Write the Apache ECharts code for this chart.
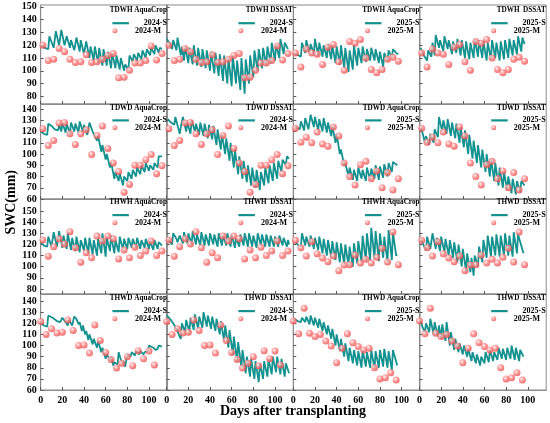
<!DOCTYPE html>
<html><head><meta charset="utf-8">
<script src="https://cdn.jsdelivr.net/npm/echarts@6/dist/echarts.min.js"></script>
<style>html,body{margin:0;padding:0;background:#fff}#c{width:550px;height:423px}</style>
</head><body><div id="c"></div>
<script>
// ---------- DATA ----------
const panelTitles = [
  ['TDWH AquaCrop','TDWH DSSAT','TDWH AquaCrop','TDWH  DSSAT'],
  ['TDWD AquaCrop','TDWD DSSAT','TDWD AquaCrop','TDWD  DSSAT'],
  ['THWH AquaCrop','THWH  DSSAT','THWH AquaCrop','THWD  DSSAT'],
  ['THWD AquaCrop','THWD  DSSAT','THWD AquaCrop','THWD  DSSAT']
];
const yearOfCol = ['2024','2024','2025','2025'];
const xTicks = [0,20,40,60,80,100];
const yTicksA = [80,90,100,110,120,130,140,150];
const yTicksB = [60,70,80,90,100,110,120,130,140];

// measurement days
const mDays24 = [2,7,12,17,22,27,32,37,42,47,52,57,62,67,72,77,82,87,92,97,102,107,112];
const mDays25 = [2,7,12,17,22,27,32,37,42,47,52,57,62,67,72,77,82,87,92,97];
const mDays24b = [0,5,10,15,20,25,30,35,40,45,50,55,60,65,70,75,80,85,90,95,100,105];
const mDays25b = [0,5,10,15,20,25,30,35,40,45,50,55,60,65,70,75,80,85,90,95];

// measured SWC (mm)
const mTDWH24 = [120,108,109,117.5,115,109,106.5,107,112.5,106.5,107,109,112,113.5,94.5,95,100.5,106,106,108,119.5,108.5,113.5];
const mTDWH25 = [114,103,117,114,113,105,118.5,120.5,107,100.5,123,121.5,124.5,110,101,98.5,101,109,110.5,107.5];
const mTDWD24 = [122.5,107.5,112,127.5,128,118,108.5,118,121.5,99.5,116.5,125,105,92,84.5,66,73,90,90,95,99.5,82.5,89.5];
const mTDWD25 = [123,110.5,115,110,119.5,109,107,124,116,92,80,72.5,90.5,93.5,78,85,70,83.5,68,78];
const mTHWH24 = [124,109.5,118,125,120.5,131.5,117,104,112.5,108,127.5,123,127.5,125,107,115,108,117.5,110,114,123,110,114];
const mTHWH25 = [123.7,117.1,109.6,122.5,111.7,107.8,104.5,109.6,96.4,101.5,101.8,110.5,103.3,106.6,103.3,108.4,116.5,104.2,131.1,101.8];
const mTHWD24 = [121.5,110,115,111.2,112,123,113.6,100,100.5,93.2,118.5,104.5,93.8,87.5,79.8,84,89.9,81.9,95.3,88.1,95,82.5];
const mTHWD25 = [122,110.5,133.5,111,108,110,104,99.5,84.5,97.5,110.5,102.5,99,96,97.5,80,70,71,75.5,69];

// simulated SWC (mm) as [day, value]
const s11 = [[0,120],[2,118.5],[7,117],[8,127],[12,118],[14,131],[17,120],[19,132],[22,120],[24,127],[27,118],[28,124],[31,116],[33,126],[36,115],[37,124],[40,113],[42,123],[45,110],[46,119],[49,108],[50,119],[53,106],[54,118],[57,104],[58,117],[61,104],[62,115],[65,102],[66,114],[69,102],[70,112],[73,101],[74,110],[77,100],[78,105],[81,101],[82,112],[85,107],[86,113],[89,108],[90,114],[93,109],[94,116],[97,110],[98,117],[101,112],[102,118],[105,113],[106,120],[109,114],[110,118],[112,117]];
const s12 = [[0,125],[3,121],[5,117],[6,124],[9,116],[10,126],[13,112],[14,119],[16,108],[17,119],[20,106],[21,118],[24,105],[25,120],[28,104],[29,118],[32,103],[33,117],[36,102],[37,116],[40,100],[41,115],[44,98],[45,114],[48,96],[49,113],[52,92],[53,112],[56,90],[57,110],[60,88],[61,112],[64,90],[65,108],[68,85],[69,110],[72,82],[73,109],[76,90],[77,112],[80,95],[81,116],[84,100],[85,117],[88,102],[89,118],[92,104],[93,119],[96,106],[97,122],[100,108],[101,121],[104,110],[105,125],[108,113],[109,122],[112,117]];
const s13 = [[1,113],[5,112],[7,111],[8,122],[11,114],[12,124],[15,114],[16,121],[19,113],[20,125],[23,112],[24,122],[27,111],[28,120],[31,110],[32,121],[35,109],[36,120],[39,106],[40,119],[43,105],[44,120],[47,102],[48,118],[51,99],[52,116],[55,101],[56,120],[59,104],[60,118],[63,106],[64,119],[67,107],[68,117],[71,108],[72,118],[75,108],[76,117],[79,106],[80,115],[83,103],[84,114],[87,108],[88,116],[91,110],[92,117],[95,114],[97,113]];
const s14 = [[1,118],[4,112],[7,108],[8,116],[11,111],[12,122],[14,112],[15,128],[18,118],[19,124],[22,115],[23,127],[26,117],[27,124],[30,113],[31,123],[34,114],[35,125],[38,112],[39,124],[42,110],[43,123],[46,109],[47,122],[50,110],[51,125],[54,111],[55,124],[58,110],[59,123],[62,108],[63,122],[66,109],[67,124],[70,110],[71,122],[74,108],[75,123],[78,109],[79,124],[82,110],[83,125],[86,112],[87,124],[90,113],[91,127],[94,115],[95,126],[97,121]];
const s21 = [[0,120],[3,118],[6,117],[7,127],[10,125],[13,122],[16,121],[17,126],[19,120],[20,128],[23,119],[24,127],[27,118],[28,128],[31,120],[32,127],[35,119],[36,129],[39,120],[40,126],[43,117],[44,122],[45,128],[48,120],[49,121],[52,112],[53,116],[56,102],[57,108],[60,95],[61,100],[64,88],[65,93],[68,78],[69,84],[72,76],[73,83],[76,72],[77,80],[80,76],[81,84],[84,78],[85,86],[88,80],[89,88],[92,82],[93,90],[96,84],[97,92],[100,85],[101,90],[104,86],[105,92],[108,88],[109,98],[112,98]];
const s22 = [[1,131],[4,128],[7,126],[8,133],[12,118],[13,124],[15,133],[18,120],[19,128],[22,118],[23,130],[26,120],[27,127],[30,117],[31,128],[34,116],[35,127],[38,114],[39,126],[42,113],[43,125],[46,108],[47,122],[50,104],[51,118],[54,100],[55,114],[58,94],[59,110],[62,88],[63,104],[66,82],[67,98],[70,78],[71,94],[74,75],[75,90],[78,72],[79,88],[82,70],[83,86],[86,68],[87,84],[90,72],[91,88],[94,74],[95,90],[98,76],[99,92],[102,78],[103,94],[106,84],[107,95],[110,90],[111,98],[113,96]];
const s23 = [[1,124],[4,123],[6,122],[7,129],[10,121],[11,132],[14,122],[16,135],[19,124],[20,133],[23,121],[24,131],[27,120],[28,132],[31,119],[32,128],[35,116],[36,125],[39,110],[40,118],[43,100],[44,104],[47,90],[48,92],[51,80],[52,88],[55,77],[56,86],[59,76],[60,88],[63,78],[64,86],[67,76],[68,88],[71,77],[72,87],[75,78],[76,90],[79,77],[80,89],[83,79],[84,91],[87,80],[88,92],[91,84],[92,93],[96,90]];
const s24 = [[1,124],[3,118],[5,110],[6,116],[9,108],[10,118],[13,110],[14,122],[17,115],[18,133],[21,120],[22,130],[25,118],[26,131],[29,116],[30,128],[33,114],[34,127],[37,110],[38,124],[41,106],[42,121],[45,100],[46,117],[49,96],[50,112],[53,92],[54,108],[57,88],[58,104],[61,84],[62,100],[65,80],[66,96],[69,76],[70,92],[73,72],[74,88],[77,70],[78,84],[81,68],[82,80],[85,65],[86,78],[89,64],[90,76],[93,66],[94,76],[97,72]];
const s31 = [[0,122],[3,119],[6,118],[7,127],[10,118],[12,131],[15,118],[17,132],[20,117],[21,128],[24,116],[25,130],[28,115],[29,126],[32,114],[33,127],[36,113],[37,124],[40,114],[41,126],[44,112],[45,126],[48,111],[49,124],[52,110],[53,125],[56,112],[57,130],[60,109],[61,126],[64,114],[65,128],[68,112],[69,124],[72,113],[73,127],[76,115],[77,125],[80,116],[81,126],[84,117],[85,125],[88,117],[89,126],[92,116],[93,124],[96,117],[97,125],[100,116],[101,123],[104,115],[105,124],[108,116],[109,122],[112,119]];
const s32 = [[0,126],[3,122],[5,120],[6,130],[9,125],[10,122],[12,128],[15,121],[16,131],[19,121],[20,130],[23,120],[24,132],[27,120],[28,129],[31,119],[32,131],[35,119],[36,129],[39,119],[40,130],[43,120],[44,129],[47,118],[48,130],[51,119],[52,128],[55,119],[56,130],[59,118],[60,129],[63,117],[64,126],[67,118],[68,129],[71,119],[72,130],[75,118],[76,130],[79,118],[80,128],[83,117],[84,130],[87,119],[88,129],[91,118],[92,129],[95,118],[96,128],[99,118],[100,127],[103,118],[104,128],[107,119],[108,126],[111,118],[112,124],[113,120]];
const s33 = [[2,122],[5,119],[7,118],[8,130],[11,119],[12,127],[15,118],[16,128],[19,116],[20,126],[23,115],[24,127],[27,112],[28,125],[31,110],[32,124],[35,108],[36,123],[39,106],[40,122],[43,104],[44,121],[47,102],[48,120],[51,101],[52,118],[55,100],[56,121],[59,103],[60,123],[63,104],[64,128],[67,105],[68,130],[71,106],[72,135],[75,107],[76,132],[79,105],[80,130],[83,108],[84,127],[87,104],[88,133],[91,106],[92,131],[95,110],[96,111]];
const s34 = [[1,125],[4,119],[6,115],[7,127],[10,116],[12,130],[15,116],[16,126],[19,114],[20,127],[23,113],[24,125],[27,110],[28,124],[31,108],[32,122],[35,104],[36,120],[39,100],[40,116],[43,96],[44,112],[47,95],[48,108],[50,92],[51,110],[54,100],[55,118],[58,104],[59,124],[62,108],[63,128],[66,109],[67,127],[70,110],[71,129],[74,109],[75,128],[78,110],[79,130],[82,110],[83,128],[86,109],[87,131],[90,112],[91,129],[96,112]];
const s41 = [[0,120],[3,118],[6,117],[7,127],[11,125],[15,122],[18,121],[20,125],[23,121],[25,118],[26,123],[29,118],[31,126],[33,124],[35,119],[36,121],[38,113],[39,118],[41,110],[42,113],[44,105],[45,110],[48,101],[49,106],[52,98],[53,104],[56,94],[57,98],[60,88],[61,92],[64,87],[65,90],[67,82],[68,85],[71,83],[72,94],[75,84],[76,86],[78,81],[80,92],[83,90],[84,94],[87,91],[88,95],[91,92],[92,95],[95,92],[96,94],[99,95],[100,100],[104,98],[106,96],[108,97],[109,100],[112,99]];
const s42 = [[0,127],[3,124],[6,120],[9,115],[12,108],[13,106],[14,120],[17,112],[18,123],[21,112],[22,125],[25,114],[26,128],[29,115],[30,126],[33,116],[34,130],[37,117],[38,127],[41,115],[42,126],[45,113],[46,124],[49,110],[50,122],[53,104],[54,118],[57,98],[58,114],[61,92],[62,108],[65,86],[66,103],[69,80],[70,96],[73,75],[74,90],[77,72],[78,88],[81,70],[82,86],[85,67],[86,84],[89,70],[90,86],[93,72],[94,88],[97,74],[98,90],[101,76],[102,90],[105,74],[106,88],[109,72],[110,84],[113,75]];
const s43 = [[1,124],[4,122],[7,121],[8,125],[11,121],[12,126],[15,119],[16,127],[19,118],[20,125],[23,116],[24,124],[27,113],[28,121],[31,110],[32,118],[35,106],[36,115],[39,100],[40,110],[43,95],[44,106],[47,90],[48,102],[51,86],[52,98],[55,84],[56,96],[59,82],[60,95],[63,80],[64,96],[67,81],[68,94],[71,80],[72,96],[75,79],[76,95],[79,80],[80,96],[83,81],[84,97],[87,80],[88,95],[91,78],[92,96],[96,82]];
const s44 = [[1,122],[3,116],[5,112],[6,120],[9,112],[10,124],[13,110],[14,121],[17,108],[18,118],[20,106],[21,119],[24,104],[25,121],[28,100],[29,112],[32,96],[33,106],[36,94],[37,102],[40,92],[41,100],[44,90],[45,97],[48,86],[49,94],[52,84],[53,92],[56,82],[57,90],[60,84],[61,94],[64,85],[65,96],[68,86],[69,94],[72,87],[73,98],[76,88],[77,97],[80,87],[81,98],[84,88],[85,100],[88,87],[89,98],[92,86],[93,96],[96,90]];

const simRows = [[s11,s12,s13,s14],[s21,s22,s23,s24],[s31,s32,s33,s34],[s41,s42,s43,s44]];
const measRows = [[mTDWH24,mTDWH25],[mTDWD24,mTDWD25],[mTHWH24,mTHWH25],[mTHWD24,mTHWD25]];
const measDays = [[mDays24,mDays25],[mDays24,mDays25],[mDays24,mDays25],[mDays24b,mDays25b]];

// ---------- LAYOUT ----------
const FONT = "'Liberation Serif','Times New Roman',serif";
const colLeft = [40.7, 166.7, 293.3, 419.5];
const colW = 126.7;
const rowTop = [5, 104, 199, 294];
const rowH = [99, 95, 95, 96];
const yMin = [74, 60, 75.5, 60];
const yMax = [151.5, 144.5, 160.8, 146.3];
const yTickRows = [yTicksA, yTicksB, yTicksA, yTicksB];
const titleY = [11, 109.3, 203, 299.5];
const legSY = [20.3, 117.5, 212.2, 308.2];
const legMY = [29.3, 126.3, 221.2, 317.3];
const LINE = '#149290';
const GRID = '#8a8a8a';

const grids = [], xAxes = [], yAxes = [], series = [], titles = [], legends = [];
const dotColor = {type:'radial', x:0.38, y:0.35, r:0.7, colorStops:[
  {offset:0, color:'#fff0f0'},{offset:0.45, color:'#ff8585'},{offset:1, color:'#e84444'}]};
const legText = {fontFamily:FONT, fontWeight:'bold', fontSize:8, color:'#000',
  rich:{a:{width:33, align:'right', fontFamily:FONT, fontWeight:'bold', fontSize:8, color:'#000'}}};

for (let r = 0; r < 4; r++) {
  for (let c = 0; c < 4; c++) {
    const i = r*4 + c;
    const yr = yearOfCol[c];
    const yi = c < 2 ? 0 : 1;
    grids.push({left: colLeft[c], top: rowTop[r], width: colW, height: rowH[r],
      show: true, borderColor: GRID, borderWidth: 1, containLabel: false});
    xAxes.push({type:'value', gridIndex:i, min:0, max:117,
      axisLine:{show:true, onZero:false, lineStyle:{color:GRID, width:1}},
      axisTick:{show:true, inside:true, length:3, customValues: xTicks, lineStyle:{color:'#555'}},
      axisLabel:{show: r===3, customValues: xTicks, color:'#000', fontFamily:FONT, fontWeight:'bold', fontSize:10, margin:5},
      splitLine:{show:false}});
    yAxes.push({type:'value', gridIndex:i, min:yMin[r], max:yMax[r],
      axisLine:{show:true, lineStyle:{color:GRID, width:1}},
      axisTick:{show:true, inside:true, length:3, customValues: yTickRows[r], lineStyle:{color:'#555'}},
      axisLabel:{show: c===0, customValues: yTickRows[r], color:'#000', fontFamily:FONT, fontWeight:'bold', fontSize:10, margin:4},
      splitLine:{show:false}});
    series.push({type:'line', name: yr+'-S', xAxisIndex:i, yAxisIndex:i, data: simRows[r][c],
      symbol:'none', lineStyle:{color:LINE, width:1.8}, itemStyle:{color:LINE}, z:2, animation:false});
    const md = measDays[r][yi], mv = measRows[r][yi];
    series.push({type:'scatter', name: yr+'-M', xAxisIndex:i, yAxisIndex:i,
      data: md.map((d,k)=>[d, mv[k]]), symbol:'circle', symbolSize:7,
      itemStyle:{color: dotColor}, z:3, animation:false});
    const rightPx = 550 - (colLeft[c] + colW);
    titles.push({text: panelTitles[r][c], right: rightPx + 0.5, top: titleY[r] - 4.5, padding:0,
      textStyle:{fontFamily:FONT, fontWeight:'bold', fontSize:7.2, color:'#000'}});
    const lx = colLeft[c] + colW - 55;
    legends.push({data:[{name: yr+'-S', icon:'rect'}], left: lx, top: legSY[r] - 1.1, padding:0,
      itemWidth:16.5, itemHeight:2.2, selectedMode:false,
      formatter: n => '{a|' + n + '}', textStyle: legText});
    legends.push({data:[{name: yr+'-M', icon:'circle'}], left: lx, top: legMY[r] - 2.5, padding:0,
      itemWidth:16.5, itemHeight:5, selectedMode:false,
      formatter: n => '{a|' + n + '}', textStyle: legText});
  }
}

const chart = echarts.init(document.getElementById('c'), null, {renderer:'canvas'});
chart.setOption({
  animation:false,
  backgroundColor:'#fff',
  title: titles,
  legend: legends,
  grid: grids, xAxis: xAxes, yAxis: yAxes, series: series,
  graphic: [
    {type:'text', left: 4, top: 170, rotation: Math.PI/2, style:{text:'SWC(mm)', fontFamily:FONT, fontWeight:'bold', fontSize:14, fill:'#000'}},
    {type:'text', x: 293, y: 404, style:{text:'Days after transplanting', textAlign:'center', fontFamily:FONT, fontWeight:'bold', fontSize:14, fill:'#000'}}
  ]
});
</script></body></html>
